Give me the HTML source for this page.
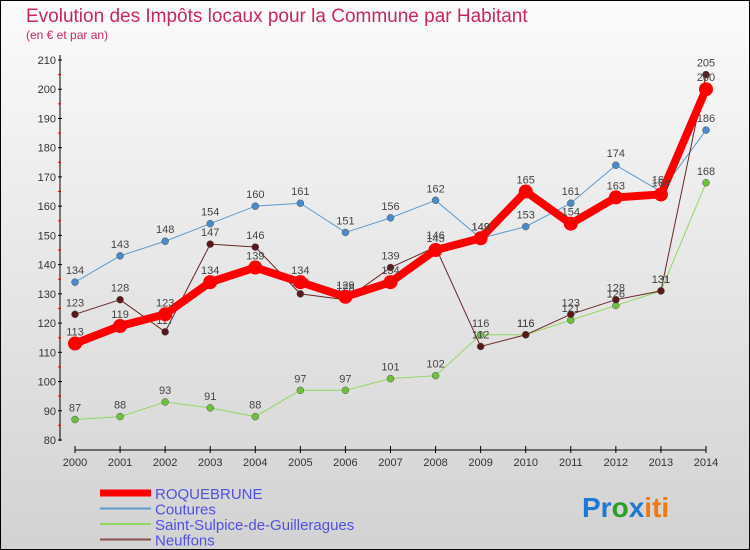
<!DOCTYPE html>
<html><head><meta charset="utf-8"><style>
body{margin:0}
#c{width:750px;height:550px;position:relative;font-family:"Liberation Sans",sans-serif;background:linear-gradient(#fbfbfb,#d2d2d2);border:1px solid #000;box-sizing:border-box;overflow:hidden}
</style></head><body>
<div id="c">
<svg id="s" width="750" height="550" style="position:absolute;left:-1px;top:-1px">
<text x="26" y="22" font-size="19" fill="#c8285a">Evolution des Impôts locaux pour la Commune par Habitant</text>
<text x="26" y="39" font-size="12" fill="#c8285a">(en € et par an)</text>
<g id="ax"></g><g id="sr"></g><g id="lg"></g>
<text x="582" y="517" font-size="28" font-weight="bold"><tspan fill="#1e78d2">Pr</tspan><tspan fill="#28a028">o</tspan><tspan fill="#1e78d2">x</tspan><tspan fill="#f07814">iti</tspan></text>
</svg>
</div>
<script>
const years=[2000,2001,2002,2003,2004,2005,2006,2007,2008,2009,2010,2011,2012,2013,2014];
const yTicks=[80,90,100,110,120,130,140,150,160,170,180,190,200,210];
const roquebrune=[113,119,123,134,139,134,129,134,145,149,165,154,163,164,200];
const coutures=[134,143,148,154,160,161,151,156,162,149,153,161,174,165,186];
const saintSulpice=[87,88,93,91,88,97,97,101,102,116,116,121,126,131,168];
const neuffons=[123,128,117,147,146,130,128,139,146,112,116,123,128,131,205];
const NS="http://www.w3.org/2000/svg";
const X=i=>75+i*(706-75)/14, Y=v=>440-(v-80)*(380/130);
function mk(t,a,p){const e=document.createElementNS(NS,t);for(const k in a)e.setAttribute(k,a[k]);p.appendChild(e);return e;}
const ax=document.getElementById('ax');
let e=mk('line',{x1:60,y1:55,x2:60,y2:441,stroke:'#000','stroke-width':1},ax);

e=mk('line',{x1:75,y1:450,x2:706,y2:450,stroke:'#000','stroke-width':1},ax);

yTicks.forEach(v=>{mk('line',{x1:58,x2:62,y1:Y(v),y2:Y(v),stroke:'#000'},ax);
 if(v<210)mk('line',{x1:58,x2:61,y1:Y(v+5),y2:Y(v+5),stroke:'#e00'},ax);
 const t=mk('text',{x:56,y:Y(v)+4,'font-size':11,'text-anchor':'end',fill:'#333'},ax);t.textContent=v;
 });
years.forEach((y,i)=>{mk('line',{x1:X(i),x2:X(i),y1:446,y2:453,stroke:'#000'},ax);
 const t=mk('text',{x:X(i),y:466,'font-size':11,'text-anchor':'middle',fill:'#333'},ax);t.textContent=y;
 });
const sr=document.getElementById('sr');
const series=[
 {n:'saint-sulpice',d:saintSulpice,c:'#90d860',w:1,r:3.5,f:'#70c040'},
 {n:'coutures',d:coutures,c:'#5a9bd0',w:1,r:3.5,f:'#4a8ac8'},
 {n:'neuffons',d:neuffons,c:'#6a2424',w:1,r:3.5,f:'#5a1818'},
 {n:'roquebrune',d:roquebrune,c:'#f00',w:8,r:7,f:'#f00'}];
series.forEach(s=>{const g=mk('g',{},sr);
 const p=mk('polyline',{points:s.d.map((v,i)=>X(i)+','+Y(v)).join(' '),fill:'none',stroke:s.c,'stroke-width':s.w},g);
 
 s.d.forEach((v,i)=>{const c=mk('circle',{cx:X(i),cy:Y(v),r:s.r,fill:s.f,stroke:s.w>1?'none':'#555','stroke-width':0.5},g);
  
  const t=mk('text',{x:X(i),y:Y(v)-8,'font-size':11,'text-anchor':'middle',fill:'#444'},g);t.textContent=v;
  });});
const lg=document.getElementById('lg');
[['ROQUEBRUNE','#f00',7],['Coutures','#5a9bd0',2],['Saint-Sulpice-de-Guilleragues','#90d860',2],['Neuffons','#8a5050',2]].forEach((l,i)=>{
 const y=493+i*15.5;const g=mk('g',{},lg);
 mk('line',{x1:100,x2:151,y1:y,y2:y,stroke:l[1],'stroke-width':l[2]},g);
 const t=mk('text',{x:155,y:y+6,'font-size':15,fill:'#5050e0'},g);t.textContent=l[0];});
</script>
</body></html>
